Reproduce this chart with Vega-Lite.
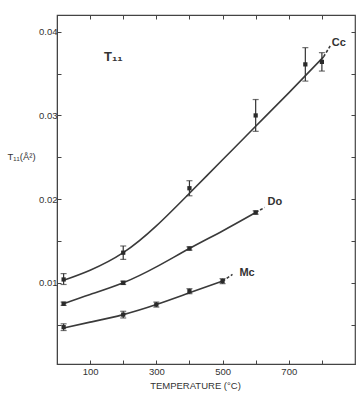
{
  "$schema": "https://vega.github.io/schema/vega-lite/v6.json",
  "width": 298,
  "height": 349,
  "autosize": "none",
  "padding": {"left": 57, "top": 15, "right": 3, "bottom": 31},
  "background": "white",
  "config": {
    "view": {"stroke": "#444", "strokeWidth": 1.2},
    "font": "Liberation Sans",
    "axis": {"grid": false, "domainColor": "#444", "tickColor": "#444", "labelColor": "#333", "titleColor": "#333", "labelFont": "Liberation Sans", "titleFont": "Liberation Sans", "labelFontSize": 9.5, "titleFontSize": 9.5, "titleFontWeight": "normal", "tickSize": -4, "tickWidth": 1}
  },
  "datasets": {
    "curves": [
      {"series": "Cc", "t": 20, "v": 0.0103}, {"series": "Cc", "t": 100, "v": 0.0115}, {"series": "Cc", "t": 200, "v": 0.0136}, {"series": "Cc", "t": 300, "v": 0.0168}, {"series": "Cc", "t": 400, "v": 0.0207}, {"series": "Cc", "t": 500, "v": 0.0247}, {"series": "Cc", "t": 600, "v": 0.0287}, {"series": "Cc", "t": 700, "v": 0.0327}, {"series": "Cc", "t": 805, "v": 0.0370},
      {"series": "Do", "t": 20, "v": 0.0075}, {"series": "Do", "t": 100, "v": 0.0086}, {"series": "Do", "t": 200, "v": 0.0100}, {"series": "Do", "t": 300, "v": 0.0119}, {"series": "Do", "t": 400, "v": 0.0141}, {"series": "Do", "t": 500, "v": 0.0162}, {"series": "Do", "t": 600, "v": 0.0184},
      {"series": "Mc", "t": 20, "v": 0.0046}, {"series": "Mc", "t": 100, "v": 0.0053}, {"series": "Mc", "t": 200, "v": 0.0062}, {"series": "Mc", "t": 300, "v": 0.0074}, {"series": "Mc", "t": 400, "v": 0.0088}, {"series": "Mc", "t": 500, "v": 0.0102}
    ],
    "dashes": [
      {"series": "Cc", "t": 805, "v": 0.0370}, {"series": "Cc", "t": 825, "v": 0.0383},
      {"series": "Do", "t": 600, "v": 0.0184}, {"series": "Do", "t": 627, "v": 0.0190},
      {"series": "Mc", "t": 500, "v": 0.0102}, {"series": "Mc", "t": 530, "v": 0.0110}
    ],
    "points": [
      {"series": "Cc", "t": 20, "v": 0.0104, "lo": 0.0098, "hi": 0.0111},
      {"series": "Cc", "t": 200, "v": 0.0136, "lo": 0.0128, "hi": 0.0144},
      {"series": "Cc", "t": 400, "v": 0.0213, "lo": 0.0204, "hi": 0.0222},
      {"series": "Cc", "t": 600, "v": 0.0300, "lo": 0.0281, "hi": 0.0319},
      {"series": "Cc", "t": 750, "v": 0.0361, "lo": 0.0341, "hi": 0.0381},
      {"series": "Cc", "t": 800, "v": 0.0364, "lo": 0.0353, "hi": 0.0375},
      {"series": "Do", "t": 20, "v": 0.0075, "lo": 0.0073, "hi": 0.0077},
      {"series": "Do", "t": 200, "v": 0.0100, "lo": 0.0098, "hi": 0.0102},
      {"series": "Do", "t": 400, "v": 0.0141, "lo": 0.0139, "hi": 0.0143},
      {"series": "Do", "t": 600, "v": 0.0184, "lo": 0.0182, "hi": 0.0186},
      {"series": "Mc", "t": 20, "v": 0.0047, "lo": 0.0043, "hi": 0.0051},
      {"series": "Mc", "t": 200, "v": 0.0062, "lo": 0.0058, "hi": 0.0066},
      {"series": "Mc", "t": 300, "v": 0.0074, "lo": 0.0071, "hi": 0.0077},
      {"series": "Mc", "t": 400, "v": 0.0090, "lo": 0.0087, "hi": 0.0093},
      {"series": "Mc", "t": 500, "v": 0.0102, "lo": 0.0099, "hi": 0.0105}
    ],
    "labels": [
      {"text": "Cc", "t": 830, "v": 0.0387, "size": 11},
      {"text": "Do", "t": 636, "v": 0.0196, "size": 11},
      {"text": "Mc", "t": 551, "v": 0.0112, "size": 11},
      {"text": "T₁₁", "t": 142, "v": 0.0370, "size": 13}
    ]
  },
  "resolve": {"axis": {"x": "independent", "y": "independent"}},
  "layer": [
    {
      "data": {"name": "curves"},
      "mark": {"type": "line", "interpolate": "natural", "color": "#3a3a3a", "strokeWidth": 1.6},
      "encoding": {
        "x": {"field": "t", "type": "quantitative", "scale": {"domain": [0, 900], "nice": false, "zero": false},
          "axis": {"orient": "bottom", "values": [100, 200, 300, 400, 500, 600, 700, 800], "labelExpr": "datum.value % 200 == 100 ? datum.label : ''", "labelPadding": 6, "title": "TEMPERATURE (°C)", "titleX": 138, "titleY": 24, "titleBaseline": "alphabetic", "titleAnchor": "middle", "titleAlign": "center"}},
        "y": {"field": "v", "type": "quantitative", "scale": {"domain": [0.0003, 0.042], "nice": false, "zero": false},
          "axis": {"orient": "left", "values": [0.005, 0.01, 0.015, 0.02, 0.025, 0.03, 0.035, 0.04], "labelExpr": "round(datum.value*200) % 2 == 0 ? format(datum.value, '.2f') : ''", "labelPadding": 4, "title": "T₁₁(Å²)", "titleAngle": 0, "titleX": -50, "titleY": 141, "titleAlign": "left", "titleBaseline": "middle"}},
        "detail": {"field": "series"}
      }
    },
    {
      "data": {"name": "dashes"},
      "mark": {"type": "line", "color": "#3a3a3a", "strokeWidth": 1.6, "strokeDash": [3, 2]},
      "encoding": {
        "x": {"field": "t", "type": "quantitative", "scale": {"domain": [0, 900], "nice": false, "zero": false}, "axis": null},
        "y": {"field": "v", "type": "quantitative", "scale": {"domain": [0.0003, 0.042], "nice": false, "zero": false}, "axis": null},
        "detail": {"field": "series"}
      }
    },
    {
      "data": {"name": "points"},
      "mark": {"type": "rule", "color": "#333", "strokeWidth": 1.2},
      "encoding": {
        "x": {"field": "t", "type": "quantitative", "scale": {"domain": [0, 900], "nice": false, "zero": false}, "axis": null},
        "y": {"field": "lo", "type": "quantitative", "scale": {"domain": [0.0003, 0.042], "nice": false, "zero": false}, "axis": null},
        "y2": {"field": "hi"}
      }
    },
    {
      "data": {"name": "points"},
      "mark": {"type": "tick", "orient": "horizontal", "color": "#333", "size": 6, "thickness": 1.2},
      "encoding": {
        "x": {"field": "t", "type": "quantitative", "scale": {"domain": [0, 900], "nice": false, "zero": false}, "axis": null},
        "y": {"field": "lo", "type": "quantitative", "scale": {"domain": [0.0003, 0.042], "nice": false, "zero": false}, "axis": null}
      }
    },
    {
      "data": {"name": "points"},
      "mark": {"type": "tick", "orient": "horizontal", "color": "#333", "size": 6, "thickness": 1.2},
      "encoding": {
        "x": {"field": "t", "type": "quantitative", "scale": {"domain": [0, 900], "nice": false, "zero": false}, "axis": null},
        "y": {"field": "hi", "type": "quantitative", "scale": {"domain": [0.0003, 0.042], "nice": false, "zero": false}, "axis": null}
      }
    },
    {
      "data": {"name": "points"},
      "mark": {"type": "square", "color": "#2a2a2a", "size": 18, "opacity": 1, "filled": true},
      "encoding": {
        "x": {"field": "t", "type": "quantitative", "scale": {"domain": [0, 900], "nice": false, "zero": false},
          "axis": {"orient": "top", "values": [100, 200, 300, 400, 500, 600, 700, 800], "labels": false, "domain": false, "title": null}},
        "y": {"field": "v", "type": "quantitative", "scale": {"domain": [0.0003, 0.042], "nice": false, "zero": false},
          "axis": {"orient": "right", "values": [0.005, 0.01, 0.015, 0.02, 0.025, 0.03, 0.035, 0.04], "labels": false, "domain": false, "title": null}}
      }
    },
    {
      "data": {"name": "labels"},
      "mark": {"type": "text", "align": "left", "baseline": "middle", "color": "#333", "fontWeight": "bold", "font": "Liberation Sans"},
      "encoding": {
        "x": {"field": "t", "type": "quantitative", "scale": {"domain": [0, 900], "nice": false, "zero": false}, "axis": null},
        "y": {"field": "v", "type": "quantitative", "scale": {"domain": [0.0003, 0.042], "nice": false, "zero": false}, "axis": null},
        "text": {"field": "text"},
        "size": {"field": "size", "type": "quantitative", "scale": null}
      }
    }
  ]
}
